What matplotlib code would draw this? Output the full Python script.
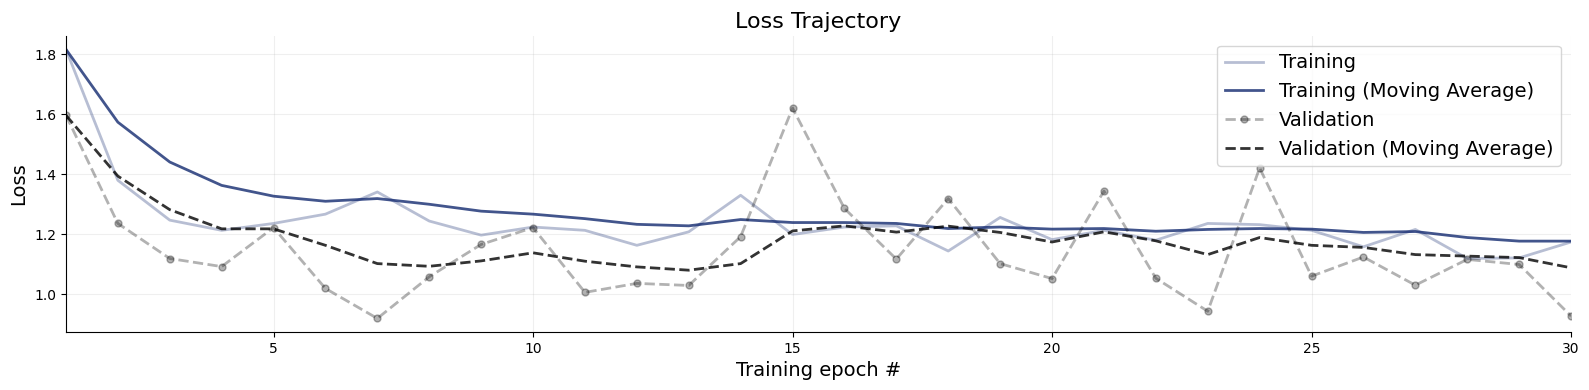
import numpy as np
import matplotlib.pyplot as plt

# -----------------------------
# Data
# -----------------------------
epochs = np.arange(1, 31)

train_loss = [1.817, 1.380, 1.247, 1.213, 1.236, 1.267, 1.341, 1.244, 1.197, 1.224,
              1.213, 1.163, 1.208, 1.330, 1.199, 1.224, 1.228, 1.144, 1.256, 1.182,
              1.213, 1.180, 1.236, 1.232, 1.213, 1.158, 1.216, 1.119, 1.121, 1.174]

train_loss_ma = [1.817, 1.574, 1.441, 1.363, 1.327, 1.310, 1.319, 1.300, 1.277, 1.267,
                 1.252, 1.233, 1.228, 1.249, 1.239, 1.239, 1.236, 1.219, 1.224, 1.217,
                 1.219, 1.210, 1.216, 1.219, 1.217, 1.206, 1.209, 1.189, 1.177, 1.177]

val_loss = [1.597, 1.236, 1.119, 1.092, 1.222, 1.019, 0.919, 1.058, 1.166, 1.222,
            1.006, 1.036, 1.029, 1.192, 1.621, 1.286, 1.117, 1.319, 1.102, 1.052,
            1.344, 1.053, 0.943, 1.421, 1.060, 1.124, 1.030, 1.116, 1.099, 0.927]

val_loss_ma = [1.597, 1.394, 1.282, 1.218, 1.218, 1.163, 1.102, 1.093, 1.111, 1.138,
               1.110, 1.091, 1.080, 1.102, 1.211, 1.228, 1.207, 1.227, 1.206, 1.174,
               1.208, 1.178, 1.132, 1.189, 1.163, 1.156, 1.132, 1.127, 1.122, 1.088]

train_color = "#132a70"
val_color = "black"


def main():
    fig = plt.figure(figsize=(15.89, 3.9), dpi=100)
    ax = fig.add_axes([0.0415, 0.149, 0.9472, 0.759])

    ax.plot(epochs, train_loss, color=train_color, lw=2, alpha=0.3, label="Training")
    ax.plot(epochs, train_loss_ma, color=train_color, lw=2, alpha=0.8,
            label="Training (Moving Average)")
    ax.plot(epochs, val_loss, color=val_color, lw=2, ls="--", marker="o", markersize=5,
            alpha=0.3, label="Validation")
    ax.plot(epochs, val_loss_ma, color=val_color, lw=2, ls="--", alpha=0.8,
            label="Validation (Moving Average)")

    ax.set_xlim(1, 30)
    ax.grid(alpha=0.2)
    ax.set_title("Loss Trajectory", fontsize=16)
    ax.set_xlabel("Training epoch #", fontsize=14)
    ax.set_ylabel("Loss", fontsize=14)
    ax.legend(fontsize=14, loc="upper right")
    ax.spines["top"].set_visible(False)
    ax.spines["right"].set_visible(False)

    fig.savefig("out.png", dpi=100)
    plt.close(fig)


if __name__ == "__main__":
    main()
